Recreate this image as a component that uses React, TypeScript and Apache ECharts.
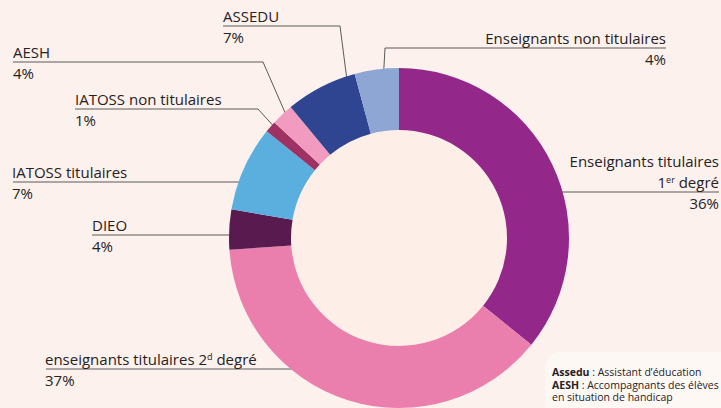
import React, { useEffect, useRef } from "react";
import * as echarts from "echarts";

// ---- data ----
const categories = [
  "Enseignants titulaires 1er degré",
  "enseignants titulaires 2d degré",
  "DIEO",
  "IATOSS titulaires",
  "IATOSS non titulaires",
  "AESH",
  "ASSEDU",
  "Enseignants non titulaires",
];
// slice sizes as drawn in the picture
const values = [35.8, 38.1, 3.8, 8.1, 1.1, 2.1, 6.8, 4.2];
// percentages printed next to each slice
const printedShares = ["36%", "37%", "4%", "7%", "1%", "4%", "7%", "4%"];
const sliceColors = [
  "#93278a",
  "#ea7fae",
  "#581a4f",
  "#5bafdf",
  "#9e3265",
  "#f09bbf",
  "#2f4592",
  "#8ea6d3",
];
const richNames = [
  "{n|Enseignants titulaires}\n{n|1}{s|er}{n| degré}",
  "{n|enseignants titulaires 2}{s|d}{n| degré}",
  "{n|DIEO}",
  "{n|IATOSS titulaires}",
  "{n|IATOSS non titulaires}",
  "{n|AESH}",
  "{n|ASSEDU}",
  "{n|Enseignants non titulaires}",
];
const glossary = [
  "{b|Assedu} : Assistant d’éducation",
  "{b|AESH} : Accompagnants des élèves",
  "en situation de handicap",
];

// ---- label layout (annotation positions) ----
const LH = 21;
const labelPlacement = [
  { x: 719, lineY: 192, align: "right", nameLines: 2, pts: [[525, 192], [600, 192], [719, 192]] },
  { x: 45, lineY: 369, align: "left", nameLines: 1, pts: [[313, 369], [200, 369], [46, 369]] },
  { x: 92, lineY: 235, align: "left", nameLines: 1, pts: [[264, 235], [180, 235], [92, 235]] },
  { x: 12, lineY: 182, align: "left", nameLines: 1, pts: [[264, 182], [100, 182], [13, 182]] },
  { x: 75, lineY: 109, align: "left", nameLines: 1, pts: [[288, 142], [258, 109], [75, 109]] },
  { x: 13, lineY: 62, align: "left", nameLines: 1, pts: [[287, 117], [263, 62], [13, 62]] },
  { x: 223, lineY: 26, align: "left", nameLines: 1, pts: [[348, 88], [340, 26], [223, 26]] },
  { x: 666, lineY: 48, align: "right", nameLines: 1, pts: [[382, 102], [385, 48], [666, 48]] },
];

const FONT = "'Open Sans', 'Noto Sans', sans-serif";
const TEXT = "#262223";

export default function App() {
  const ref = useRef<HTMLDivElement>(null);
  useEffect(() => {
    document.body.style.margin = "0";
    document.body.style.background = "#fcf1ec";
    if (!ref.current) return;
    const chart = echarts.init(ref.current, undefined, { renderer: "svg" });
    const option: any = {
      animation: false,
      backgroundColor: "#fcf1ec",
      textStyle: { fontFamily: FONT },
      graphic: [
        {
          type: "rect",
          left: 545,
          top: 352,
          shape: { width: 220, height: 90, r: 16 },
          style: { fill: "#fef8f5" },
          silent: true,
        },
        {
          type: "text",
          left: 552,
          top: 366,
          style: {
            text: glossary.join("\n"),
            fontFamily: FONT,
            fontSize: 10.5,
            lineHeight: 12.5,
            fill: TEXT,
            rich: {
              b: { fontFamily: FONT, fontSize: 10.5, lineHeight: 12.5, fontWeight: "bold", fill: TEXT },
            },
          },
        },
      ],
      series: [
        {
          type: "pie",
          silent: true,
          center: [399, 238],
          radius: [0, 108],
          label: { show: false },
          labelLine: { show: false },
          data: [{ value: 1, itemStyle: { color: "#fdefe8" } }],
          z: 1,
        },
        {
          type: "pie",
          center: [399, 238],
          radius: [108, 170],
          startAngle: 90,
          clockwise: true,
          avoidLabelOverlap: false,
          z: 2,
          data: categories.map((name, i) => ({
            name,
            value: values[i],
            itemStyle: { color: sliceColors[i] },
          })),
          label: {
            show: true,
            position: "outside",
            formatter: (p: any) => richNames[p.dataIndex] + "\n{p|" + printedShares[p.dataIndex] + "}",
            rich: {
              n: { fontFamily: FONT, fontSize: 15, lineHeight: LH, color: TEXT },
              p: { fontFamily: FONT, fontSize: 15, lineHeight: LH, color: TEXT },
              s: {
                fontFamily: FONT,
                fontSize: 9,
                lineHeight: 10,
                color: TEXT,
                verticalAlign: "top",
                padding: [4, 0, 0, 0],
              },
            },
          },
          labelLine: {
            show: true,
            lineStyle: { color: "#5a5a5a", width: 1 },
          },
          labelLayout: (params: any) => {
            const c = labelPlacement[params.dataIndex];
            return {
              x: c.x,
              y: c.lineY - LH * c.nameLines,
              align: c.align,
              verticalAlign: "top",
              labelLinePoints: c.pts,
            };
          },
        },
      ],
    };
    chart.setOption(option);
    return () => chart.dispose();
  }, []);
  return <div ref={ref} style={{ width: 721, height: 408 }} />;
}
